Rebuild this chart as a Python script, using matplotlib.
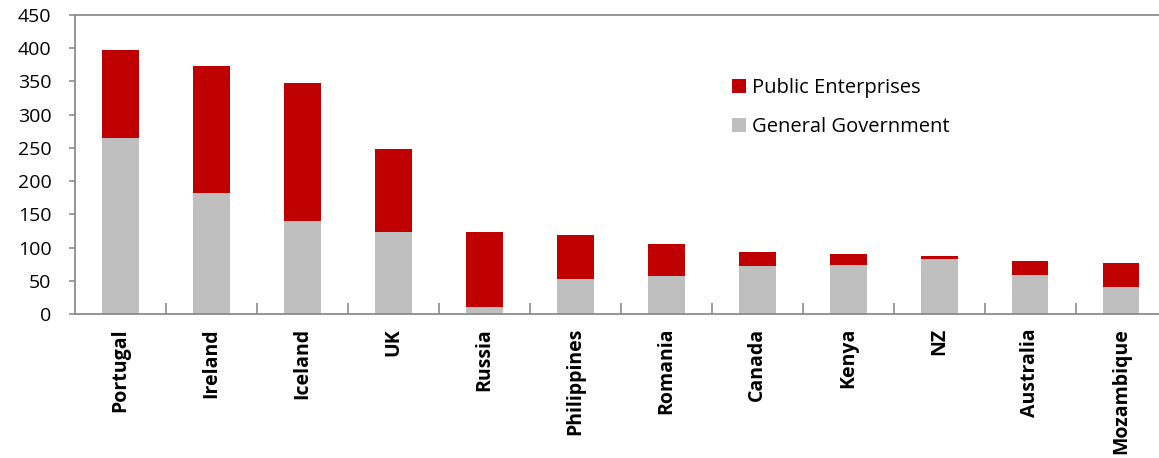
import numpy as np
import matplotlib
matplotlib.use('Agg')
import matplotlib.pyplot as plt

# data
countries = ['Portugal', 'Ireland', 'Iceland', 'UK', 'Russia', 'Philippines',
             'Romania', 'Canada', 'Kenya', 'NZ', 'Australia', 'Mozambique']
general_gov = [265, 182, 140, 124, 11, 52, 57, 72, 74, 83, 58, 41]
public_ent = [132, 192, 207, 124, 112, 67, 48, 21, 17, 5, 22, 36]
yticks = [0, 50, 100, 150, 200, 250, 300, 350, 400, 450]

RED = '#C00000'
GREY = '#BFBFBF'
SPINE = '#8C8C8C'

plt.rcParams['font.family'] = ['Open Sans', 'DejaVu Sans']

fig = plt.figure(figsize=(11.59, 4.58), dpi=100)
ax = fig.add_axes([0.0647, 0.3144, 0.942, 0.6528])

x = np.arange(len(countries))
ax.bar(x, general_gov, width=0.4, color=GREY, label='General Government', zorder=2)
ax.bar(x, public_ent, width=0.4, bottom=general_gov, color=RED,
       label='Public Enterprises', zorder=2)

ax.set_xlim(-0.5, len(countries) - 0.5)
ax.set_ylim(0, 450)
ax.set_yticks(yticks)
ax.set_yticklabels([str(v) for v in yticks], fontsize=14)

# category labels below, tick marks at category boundaries
ax.set_xticks(x)
ax.set_xticklabels(countries, rotation=90, fontsize=14, fontweight='bold')
ax.tick_params(axis='x', length=0, pad=10)
ax.set_xticks(np.arange(0.5, len(countries) - 0.5), minor=True)
ax.tick_params(axis='x', which='minor', direction='in', length=8, width=1.2, color=SPINE)
ax.tick_params(axis='y', direction='out', length=4, width=1.2, color=SPINE, pad=13)

for s in ax.spines.values():
    s.set_color(SPINE)
    s.set_linewidth(1.3)

handles, labels = ax.get_legend_handles_labels()
leg = ax.legend(handles[::-1], labels[::-1], loc='upper left',
                bbox_to_anchor=(0.585, 0.85), frameon=False, fontsize=14.5,
                handlelength=0.7, handleheight=0.7, handletextpad=0.3,
                labelspacing=0.95)

fig.savefig('out.png', dpi=100)
